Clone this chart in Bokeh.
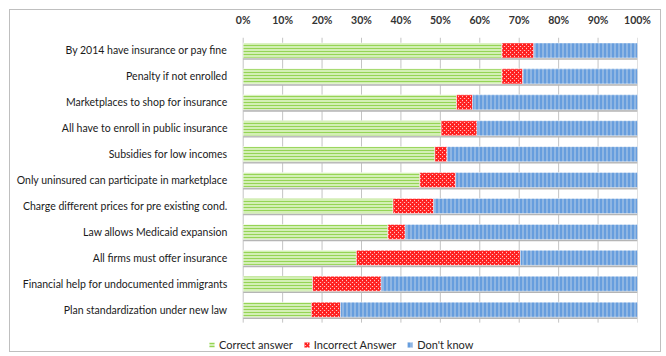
from bokeh.plotting import figure
from bokeh.models import FixedTicker, Legend, LegendItem, Range1d
from bokeh.transform import dodge
from bokeh.embed import file_html
from bokeh.resources import INLINE

categories = [
    "By 2014 have insurance or pay fine",
    "Penalty if not enrolled",
    "Marketplaces to shop for insurance",
    "All have to enroll in public insurance",
    "Subsidies for low incomes",
    "Only uninsured can participate in marketplace",
    "Charge different prices for pre existing cond.",
    "Law allows Medicaid expansion",
    "All firms must offer insurance",
    "Financial help for undocumented immigrants",
    "Plan standardization under new law",
]
correct = [65.6, 65.6, 54.1, 50.2, 48.6, 44.8, 38.0, 36.7, 28.7, 17.6, 17.3]
incorrect = [8.1, 5.3, 4.1, 9.1, 3.1, 9.1, 10.3, 4.4, 41.6, 17.4, 7.4]
dont_know = [26.3, 29.1, 41.8, 40.7, 48.3, 46.1, 51.7, 58.9, 29.7, 65.0, 75.3]
series_names = ["Correct answer", "Incorrect Answer", "Don't know"]
x_ticks = [0, 10, 20, 30, 40, 50, 60, 70, 80, 90, 100]

n = len(categories)
ypos = [n - i for i in range(n)]
total = [c + w + d for c, w, d in zip(correct, incorrect, dont_know)]

data = dict(y=ypos, correct=correct, incorrect=incorrect, dont_know=dont_know, total=total, zero=[0] * n)

FONT = "Lato"
fills = ["#d3efb5", "#ffffff", "#8fb6e3"]
hatches = ["horizontal_line", "diagonal_cross", "vertical_line"]
hatch_colors = ["#95d455", "#ff1f1f", "#3d85d8"]
hatch_scales = [3, 4, 4]
hatch_weights = [1, 2.2, 1]

# frame extends left (legend start) and down (legend row)
p = figure(width=652, height=343, output_backend="svg", toolbar_location=None,
           x_range=Range1d(-8.8, 100), y_range=Range1d(-0.69, n + 0.5),
           x_axis_location="above",
           min_border_left=198, min_border_right=25, min_border_top=26, min_border_bottom=0)
p.styles = {"border": "1px solid #bfbfbf", "margin-left": "9px", "margin-top": "9px"}
p.outline_line_color = None
p.background_fill_color = "white"
p.border_fill_color = "white"
p.xgrid.grid_line_color = None
p.ygrid.grid_line_color = None

# vertical gridlines limited to bar rows
p.segment(x0=x_ticks, x1=x_ticks, y0=0.5, y1=n + 0.5, line_color="#c4c4c4", line_width=1)

# shadow
p.hbar(y=dodge("y", -0.07), left="zero", right="total", height=0.58, source=data,
       fill_color="#b5b5b5", line_color=None)

rs = p.hbar_stack(["correct", "incorrect", "dont_know"], y="y", height=0.58, source=data,
                  fill_color=fills, hatch_pattern=hatches, hatch_color=hatch_colors,
                  hatch_scale=hatch_scales, hatch_weight=hatch_weights,
                  line_color="white", line_width=0.5)

# axes
p.xaxis.ticker = FixedTicker(ticks=x_ticks)
p.xaxis.major_label_overrides = {t: f"{t}%" for t in x_ticks}
p.xaxis.axis_line_color = None
p.xaxis.major_tick_line_color = None
p.xaxis.minor_tick_line_color = None
p.xaxis.major_label_standoff = 6
p.xaxis.major_label_text_font = FONT
p.xaxis.major_label_text_font_style = "bold"
p.xaxis.major_label_text_font_size = "10.5px"
p.xaxis.major_label_text_color = "#333333"

p.yaxis.ticker = FixedTicker(ticks=ypos)
p.yaxis.major_label_overrides = {y: c for y, c in zip(ypos, categories)}
p.yaxis.axis_line_color = None
p.yaxis.major_tick_line_color = None
p.yaxis.minor_tick_line_color = None
p.yaxis.major_label_standoff = -25
p.yaxis.major_label_text_font = FONT
p.yaxis.major_label_text_font_size = "10.5px"
p.yaxis.major_label_text_color = "#1a1a1a"

legend = Legend(items=[LegendItem(label=nm, renderers=[r]) for nm, r in zip(series_names, rs)],
                orientation="horizontal", location=(0, 2),
                glyph_width=7, glyph_height=7, spacing=10, label_standoff=4,
                label_text_font=FONT, label_text_font_size="11px", label_text_color="#262626",
                border_line_color=None, background_fill_alpha=0, padding=2, margin=0)
p.add_layout(legend)

open("out.html", "w").write(file_html(p, INLINE))
